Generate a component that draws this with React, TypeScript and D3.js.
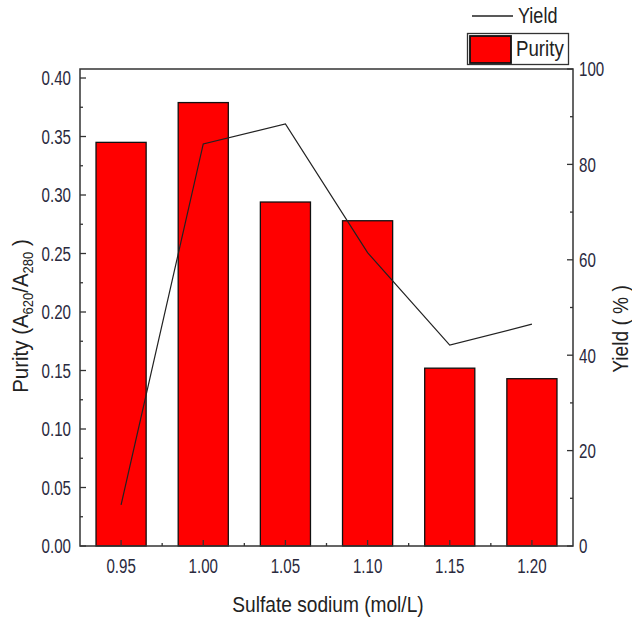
import React from "react";
import * as d3 from "d3";

const categories = ["0.95", "1.00", "1.05", "1.10", "1.15", "1.20"];
const purity = [0.345, 0.379, 0.294, 0.278, 0.152, 0.143];
const yieldPct = [8.6, 84.3, 88.5, 61.5, 42.1, 46.5];
const leftTicks = [0, 0.05, 0.1, 0.15, 0.2, 0.25, 0.3, 0.35, 0.4];
const rightTicks = [0, 20, 40, 60, 80, 100];

const W = 632, H = 618;
const M = { left: 80, right: 573, top: 69, bottom: 546 };
const FONT = "'Liberation Sans', Arial, sans-serif";
const TXT = "#2a2a3e";
const TICK_FS = 21, TICK_SX = 0.72;

type TP = { x: number; y: number; rot?: number; sx: number; fs: number; anchor?: string; fill?: string; children: React.ReactNode };
function CText({ x, y, rot = 0, sx, fs, anchor = "start", fill = "#222", children }: TP) {
  return (
    <text transform={`translate(${x},${y}) rotate(${rot}) scale(${sx},1)`} textAnchor={anchor} dy="0.35em" fontSize={fs} fill={fill}>
      {children}
    </text>
  );
}

export default function App() {
  const x = d3.scaleBand<string>().domain(categories).range([M.left, M.right]).paddingInner(0.39).paddingOuter(0.195);
  const step = (M.right - M.left) / categories.length;
  const xc = (c: string) => (x(c) as number) + x.bandwidth() / 2;
  const yL = d3.scaleLinear().domain([0, 0.4077]).range([M.bottom, M.top]);
  const yR = d3.scaleLinear().domain([0, 100]).range([M.bottom, M.top]);
  const line = d3.line<number>().x((_, i) => xc(categories[i])).y((d) => yR(d));

  const leftMinor = d3.range(0.025, 0.4, 0.05);
  const rightMinor = d3.range(10, 100, 20);
  const bottomMinor = d3.range(1, categories.length).map((i) => M.left + i * step);

  return (
    <svg width={W} height={H} style={{ position: "absolute", left: 0, top: 0, background: "#fff" }} fontFamily={FONT}>
      {purity.map((v, i) => (
        <rect key={i} x={x(categories[i])} y={yL(v)} width={x.bandwidth()} height={M.bottom - yL(v)}
          fill="#ff0000" stroke="#111" strokeWidth={1.3} />
      ))}
      <path d={line(yieldPct) || ""} fill="none" stroke="#222" strokeWidth={1.2} />
      {/* frame */}
      <rect x={M.left} y={M.top} width={M.right - M.left} height={M.bottom - M.top} fill="none" stroke="#333" strokeWidth={1.5} />
      {/* left ticks */}
      {leftTicks.map((t) => (
        <g key={"l" + t}>
          <line x1={M.left} x2={M.left + 6} y1={yL(t)} y2={yL(t)} stroke="#333" strokeWidth={1.3} />
          <CText x={71} y={yL(t)} anchor="end" fs={TICK_FS} sx={TICK_SX} fill={TXT}>{t.toFixed(2)}</CText>
        </g>
      ))}
      {leftMinor.map((t) => (
        <line key={"lm" + t} x1={M.left} x2={M.left + 3} y1={yL(t)} y2={yL(t)} stroke="#333" strokeWidth={1.3} />
      ))}
      {/* right ticks */}
      {rightTicks.map((t) => (
        <g key={"r" + t}>
          <line x1={M.right} x2={M.right - 6} y1={yR(t)} y2={yR(t)} stroke="#333" strokeWidth={1.3} />
          <CText x={579} y={yR(t)} anchor="start" fs={TICK_FS} sx={TICK_SX} fill={TXT}>{t}</CText>
        </g>
      ))}
      {rightMinor.map((t) => (
        <line key={"rm" + t} x1={M.right} x2={M.right - 3} y1={yR(t)} y2={yR(t)} stroke="#333" strokeWidth={1.3} />
      ))}
      {/* bottom ticks */}
      {categories.map((c) => (
        <g key={"b" + c}>
          <line x1={xc(c)} x2={xc(c)} y1={M.bottom} y2={M.bottom - 6} stroke="#333" strokeWidth={1.3} />
          <CText x={xc(c)} y={566} anchor="middle" fs={TICK_FS} sx={TICK_SX} fill={TXT}>{c}</CText>
        </g>
      ))}
      {bottomMinor.map((v) => (
        <line key={"bm" + v} x1={v} x2={v} y1={M.bottom} y2={M.bottom - 3} stroke="#333" strokeWidth={1.3} />
      ))}
      {/* axis titles */}
      <CText x={328} y={604} anchor="middle" fs={22} sx={0.87}>Sulfate sodium (mol/L)</CText>
      <CText x={20} y={316} rot={-90} anchor="middle" fs={22} sx={0.93}>
        Purity (A<tspan fontSize={14} dy="5">620</tspan><tspan dy="-5">/A</tspan><tspan fontSize={14} dy="5">280</tspan><tspan dy="-5"> )</tspan>
      </CText>
      <CText x={620} y={329} rot={-90} anchor="middle" fs={22} sx={0.87}>Yield ( % )</CText>
      {/* legend */}
      <line x1={472} x2={513} y1={16} y2={16} stroke="#222" strokeWidth={1.3} />
      <CText x={518} y={15} fs={22} sx={0.82}>Yield</CText>
      <rect x={467.5} y={33.5} width={101} height={31} fill="#fff" stroke="#333" strokeWidth={1.3} />
      <rect x={470} y={36} width={41} height={27} fill="#ff0000" stroke="#111" strokeWidth={1.8} />
      <CText x={516} y={48} fs={22} sx={0.85}>Purity</CText>
    </svg>
  );
}
